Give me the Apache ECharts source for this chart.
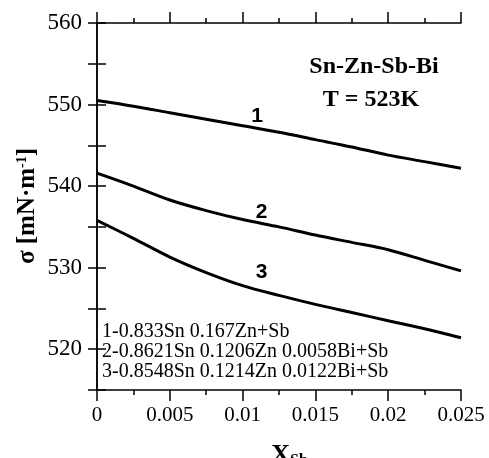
<!DOCTYPE html>
<html>
<head>
<meta charset="utf-8">
<script src="https://cdn.jsdelivr.net/npm/echarts@6/dist/echarts.min.js"></script>
<style>
  html, body { margin: 0; padding: 0; background: #fff; }
  #chart { width: 489px; height: 458px; }
</style>
</head>
<body>
<div id="chart"></div>
<script>
// Surface tension of Sn-Zn-Sb-Bi alloys vs. Sb mole fraction at 523 K
const xSb = [0, 0.0025, 0.005, 0.0075, 0.01, 0.0125, 0.015, 0.0175, 0.02, 0.0225, 0.025];
const sigma1 = [550.5, 549.8, 549.0, 548.2, 547.4, 546.6, 545.7, 544.8, 543.8, 543.0, 542.2];
const sigma2 = [541.6, 540.0, 538.3, 537.0, 535.9, 535.0, 534.0, 533.1, 532.2, 530.9, 529.6];
const sigma3 = [535.8, 533.6, 531.3, 529.4, 527.8, 526.6, 525.5, 524.5, 523.5, 522.5, 521.4];

const xTickLabels = ['0', '0.005', '0.01', '0.015', '0.02', '0.025'];
const yTickLabels = ['520', '530', '540', '550', '560'];

// curve numbers, anchored in data space next to each line
const curveTags = [
  { name: '1', x: 0.0110, y: 548.6 },
  { name: '2', x: 0.0113, y: 536.8 },
  { name: '3', x: 0.0113, y: 529.4 }
];

const legendLines = [
  '1-0.833Sn 0.167Zn+Sb',
  '2-0.8621Sn 0.1206Zn 0.0058Bi+Sb',
  '3-0.8548Sn 0.1214Zn 0.0122Bi+Sb'
];

const SERIF = '"Liberation Serif", "DejaVu Serif", serif';
const SANS = '"Liberation Sans", Arial, sans-serif';

function pairs(ys) { return xSb.map((x, i) => [x, ys[i]]); }

const chart = echarts.init(document.getElementById('chart'), null, { renderer: 'canvas' });

const axisLine = { show: true, lineStyle: { color: '#000', width: 1.5 } };

function xLabel(v) {
  const k = Math.round(v / 0.005);
  return xTickLabels[k] !== undefined ? xTickLabels[k] : '';
}
function yLabel(v) {
  const s = String(Math.round(v));
  return yTickLabels.indexOf(s) >= 0 ? s : '';
}

const lineSeries = (data) => ({
  type: 'line',
  data: pairs(data),
  smooth: 0.3,
  showSymbol: false,
  symbol: 'none',
  lineStyle: { color: '#000', width: 3 },
  xAxisIndex: 0,
  yAxisIndex: 0,
  z: 3
});

const staticGraphics = [
  {
    type: 'text', x: 374, y: 67,
    style: { text: 'Sn-Zn-Sb-Bi', fill: '#000', font: 'bold 24px ' + SERIF, align: 'center', verticalAlign: 'middle' }
  },
  {
    type: 'text', x: 371, y: 100,
    style: { text: 'T = 523K', fill: '#000', font: 'bold 24px ' + SERIF, align: 'center', verticalAlign: 'middle' }
  },
  {
    type: 'group', left: 102, top: 322,
    children: legendLines.map((t, i) => ({
      type: 'text', x: 0, y: i * 20,
      style: { text: t, fill: '#000', font: '20px ' + SERIF, align: 'left', verticalAlign: 'top' }
    }))
  },
  {
    type: 'text', x: 28, y: 206, rotation: Math.PI / 2,
    style: {
      text: 'σ [mN·m{sup|-1}]',
      fill: '#000', font: 'bold 25px ' + SERIF, align: 'center', verticalAlign: 'middle',
      rich: { sup: { fontSize: 14, fontWeight: 'bold', fontFamily: SERIF, verticalAlign: 'top', padding: [0, 0, 12, 0] } }
    }
  },
  {
    type: 'text', x: 290, y: 455,
    style: { text: 'X', fill: '#000', font: 'bold 26px ' + SERIF, align: 'right', verticalAlign: 'middle' }
  },
  {
    type: 'text', x: 290, y: 461,
    style: { text: 'Sb', fill: '#000', font: 'bold 16px ' + SERIF, align: 'left', verticalAlign: 'middle' }
  }
];

chart.setOption({
  animation: false,
  backgroundColor: '#fff',
  grid: { left: 97, right: 28, top: 23, bottom: 68, containLabel: false },
  xAxis: [
    {
      type: 'value', position: 'bottom', min: 0, max: 0.025, interval: 0.005,
      axisLine,
      axisTick: { show: true, inside: false, length: 11, lineStyle: { color: '#000', width: 1.5 } },
      minorTick: { show: true, splitNumber: 2, length: 5, lineStyle: { color: '#000', width: 1.5 } },
      splitLine: { show: false },
      axisLabel: { show: true, margin: 15, color: '#000', fontFamily: SERIF, fontSize: 21, formatter: xLabel }
    },
    {
      type: 'value', position: 'top', min: 0, max: 0.025, interval: 0.005,
      axisLine,
      axisTick: { show: true, inside: false, length: 11, lineStyle: { color: '#000', width: 1.5 } },
      minorTick: { show: true, splitNumber: 2, length: 5, lineStyle: { color: '#000', width: 1.5 } },
      splitLine: { show: false },
      axisLabel: { show: false }
    }
  ],
  yAxis: [
    {
      type: 'value', position: 'left', min: 515, max: 560, interval: 5,
      axisLine,
      axisTick: { show: true, inside: false, length: 9, lineStyle: { color: '#000', width: 1.5 } },
      splitLine: { show: false },
      axisLabel: { show: true, margin: 15, color: '#000', fontFamily: SERIF, fontSize: 23, formatter: yLabel }
    },
    {
      type: 'value', position: 'right', min: 515, max: 560, interval: 5,
      axisLine,
      axisTick: { show: true, inside: false, length: 9, lineStyle: { color: '#000', width: 1.5 } },
      splitLine: { show: false },
      axisLabel: { show: false }
    }
  ],
  series: [
    lineSeries(sigma1),
    lineSeries(sigma2),
    lineSeries(sigma3)
  ],
  graphic: staticGraphics
});

// place curve numbers through the grid's own coordinate conversion
const tagGraphics = curveTags.map(t => {
  const p = chart.convertToPixel({ gridIndex: 0 }, [t.x, t.y]);
  return {
    type: 'text', x: p[0], y: p[1], z: 10,
    style: { text: t.name, fill: '#000', font: 'bold 21px ' + SANS, align: 'center', verticalAlign: 'middle' }
  };
});
chart.setOption({ graphic: staticGraphics.concat(tagGraphics) });
</script>
</body>
</html>
